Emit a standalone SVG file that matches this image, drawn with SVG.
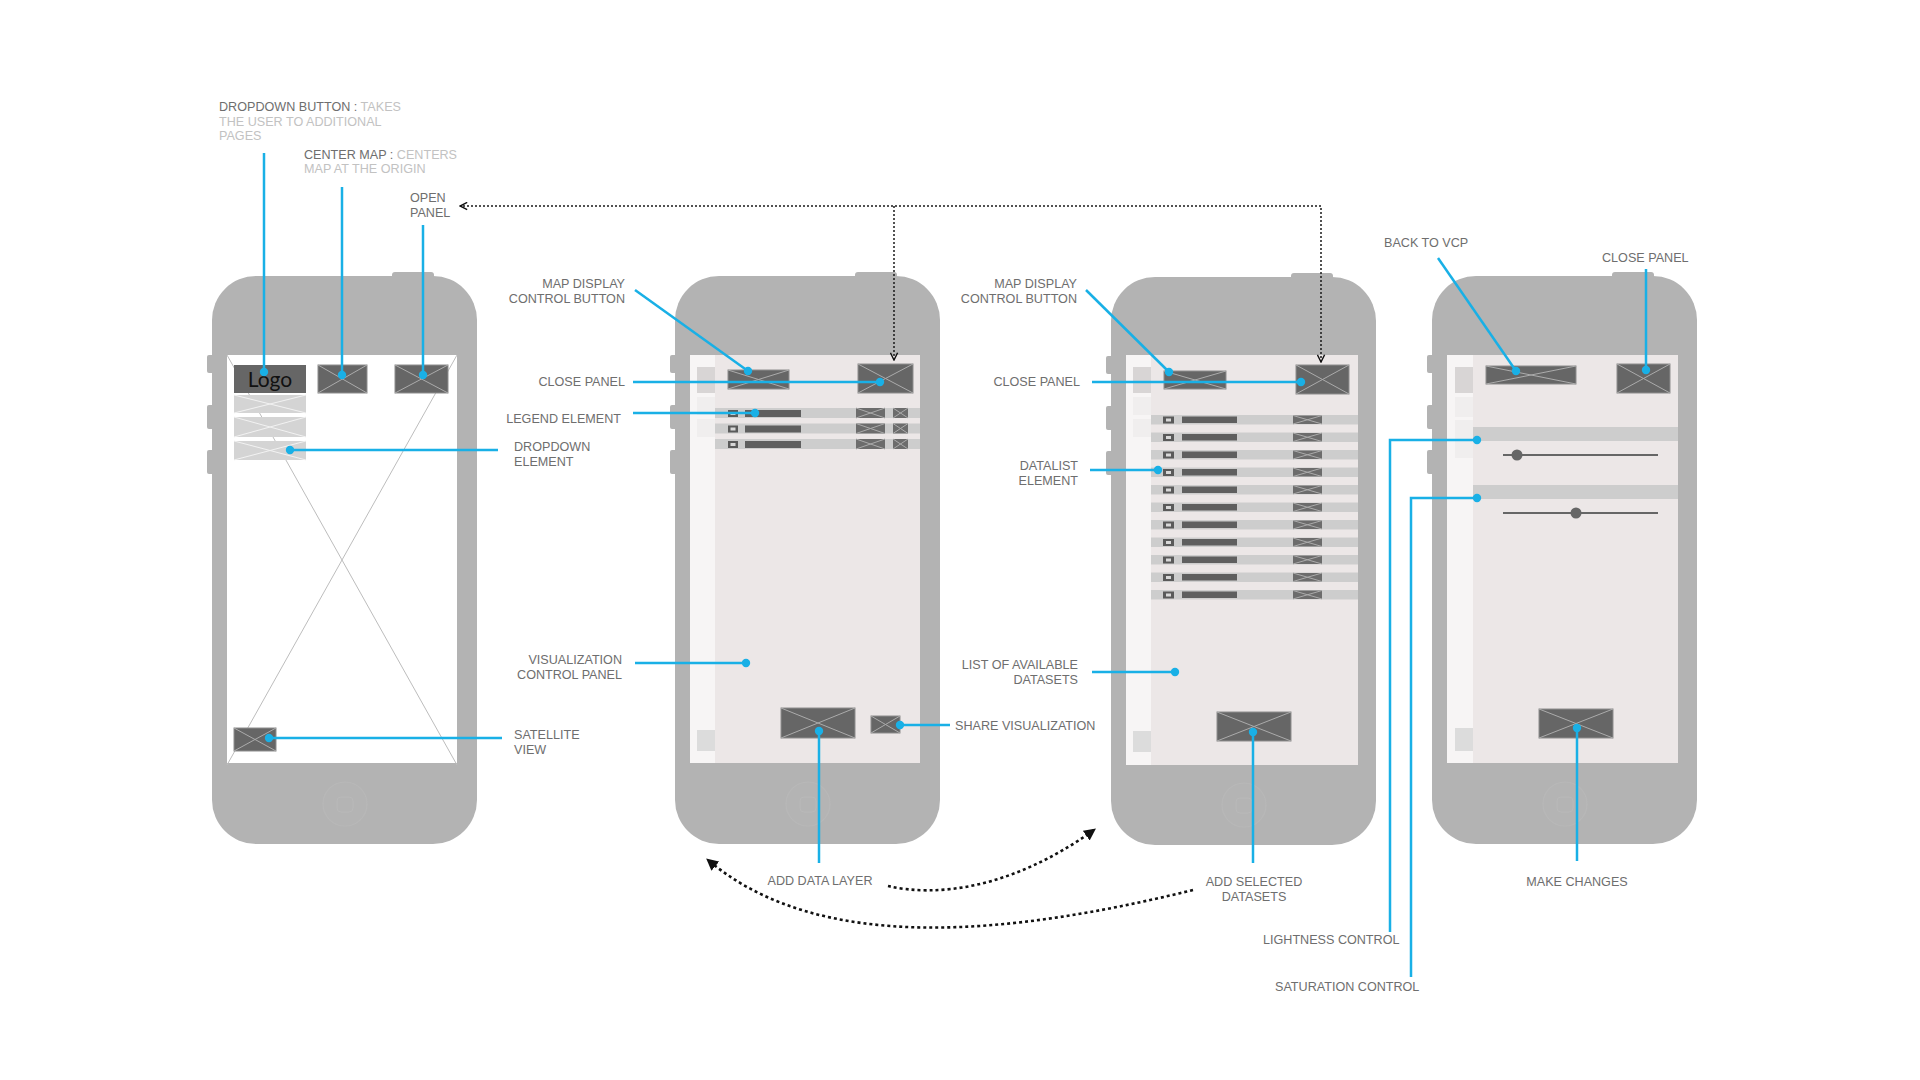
<svg xmlns="http://www.w3.org/2000/svg" xmlns:xlink="http://www.w3.org/1999/xlink" width="1920" height="1080" viewBox="0 0 1920 1080">
<style>
.body{fill:#b3b3b3}
.scr{fill:#ffffff}
.pnl{fill:#ece7e7}
.strip{fill:#f7f5f5}
.tab{fill:#d8d5d5}
.ghost{fill:#f0eeee}
.gsat{fill:#dcdcdc}
.btn{fill:#666666;stroke:#8e8e8e;stroke-width:1}
.x{stroke:#ababab;stroke-width:1;fill:none}
.bigx{stroke:#bdbdbd;stroke-width:1;fill:none}
.dd{fill:#d4d4d4}
.ddx{stroke:#f2f2f2;stroke-width:1;fill:none}
.band{fill:#cdcdcd}
.cb{fill:#5a5a5a}
.cbi{fill:#d8d8d8}
.bar{fill:#5f5f5f}
.ico{fill:#6c6c6c}
.lead{stroke:#19b0e6;stroke-width:2.5;fill:none}
.dot{fill:#19b0e6}
.dash{stroke:#1a1a1a;stroke-width:1.5;fill:none;stroke-dasharray:2 2}
.dash2{stroke:#111;stroke-width:2.6;fill:none;stroke-dasharray:3 3}
text{font-family:'Liberation Sans',Arial,sans-serif;font-size:12.6px;fill:#6e6e6e}
.lt{fill:#c2c2c2}
.end{text-anchor:end}
.mid{text-anchor:middle}
</style>
<defs>
<g id="phoneShape">
<rect class="body" x="207" y="355" width="8" height="18" rx="2"/>
<rect class="body" x="207" y="405" width="8" height="24" rx="2"/>
<rect class="body" x="207" y="450" width="8" height="24" rx="2"/>
<rect class="body" x="392" y="272" width="42" height="10" rx="3"/>
<rect class="body" x="212" y="276" width="265" height="568" rx="44"/>
<circle cx="345" cy="804" r="22" fill="#b4b4b4" stroke="#b8b8b8" stroke-width="1.2"/>
<rect x="337" y="797" width="16" height="15" rx="4" fill="none" stroke="#b9b9b9" stroke-width="1"/>
</g>
<g id="legRow">
<rect class="band" x="0" y="0" width="205" height="10"/>
<rect class="cb" x="13" y="2" width="10" height="7"/>
<rect class="cbi" x="15.5" y="4" width="5" height="3"/>
<rect class="bar" x="30" y="2" width="56" height="7"/>
<rect class="ico" x="141" y="0" width="29" height="10"/>
<path class="x" d="M141 0 L170 10 M141 10 L170 0"/>
<rect class="ico" x="178" y="0" width="15" height="10"/>
<path class="x" d="M178 0 L193 10 M178 10 L193 0"/>
</g>
<g id="dsRow">
<rect class="band" x="0" y="0" width="207" height="9.5"/>
<rect class="cb" x="12" y="1.5" width="11" height="7"/>
<rect class="cbi" x="15" y="3.5" width="5" height="3"/>
<rect class="bar" x="31" y="1.5" width="55" height="6.5"/>
<rect class="ico" x="142" y="0.5" width="29" height="8.5"/>
<path class="x" d="M142 0.5 L171 9 M142 9 L171 0.5"/>
</g>
<marker id="chev" viewBox="0 0 10 10" refX="9" refY="5" markerWidth="9" markerHeight="9" markerUnits="userSpaceOnUse" orient="auto-start-reverse">
<path d="M1 1 L9 5 L1 9" fill="none" stroke="#111" stroke-width="1.6"/>
</marker>
<marker id="tri" viewBox="0 0 10 10" refX="8" refY="5" markerWidth="12" markerHeight="12" markerUnits="userSpaceOnUse" orient="auto">
<path d="M0 0 L10 5 L0 10 z" fill="#111"/>
</marker>
</defs>
<rect x="0" y="0" width="1920" height="1080" fill="#ffffff"/>

<!-- Phone 1 -->
<g id="phone1">
<use href="#phoneShape"/>
<rect class="scr" x="227" y="355" width="230" height="408"/>
<path class="bigx" d="M227 355 L457 765 M457 355 L227 765"/>
<rect x="234" y="365" width="72" height="28" fill="#666666"/>
<text x="270" y="387" style="font-family:Lato,'Open Sans',sans-serif;font-size:21px;fill:#111" text-anchor="middle">Logo</text>
<rect class="dd" x="234" y="395" width="72" height="18"/>
<path class="ddx" d="M234 395 L306 413 M234 413 L306 395"/>
<rect class="dd" x="234" y="417" width="72" height="20"/>
<path class="ddx" d="M234 417 L306 437 M234 437 L306 417"/>
<rect class="dd" x="234" y="441" width="72" height="19"/>
<path class="ddx" d="M234 441 L306 460 M234 460 L306 441"/>
<rect class="btn" x="318" y="365" width="49" height="28"/>
<path class="x" d="M318 365 L367 393 M318 393 L367 365"/>
<rect class="btn" x="395" y="365" width="53" height="28"/>
<path class="x" d="M395 365 L448 393 M395 393 L448 365"/>
<rect class="btn" x="234" y="728" width="42" height="23"/>
<path class="x" d="M234 728 L276 751 M234 751 L276 728"/>
</g>

<!-- Phone 2 -->
<g id="phone2">
<use href="#phoneShape" x="463"/>
<rect class="strip" x="690" y="355" width="25" height="408"/>
<rect class="pnl" x="715" y="355" width="205" height="408"/>
<rect class="tab" x="697" y="367" width="18" height="26"/>
<rect class="ghost" x="697" y="397" width="18" height="18"/>
<rect class="ghost" x="697" y="419" width="18" height="18"/>
<rect class="gsat" x="697" y="730" width="18" height="21"/>
<rect class="btn" x="728" y="370" width="61" height="19"/>
<path class="x" d="M728 370 L789 389 M728 389 L789 370"/>
<rect class="btn" x="858" y="364" width="55" height="29"/>
<path class="x" d="M858 364 L913 393 M858 393 L913 364"/>
<use href="#legRow" x="715" y="408"/>
<use href="#legRow" x="715" y="423.5"/>
<use href="#legRow" x="715" y="439"/>
<rect class="btn" x="781" y="708" width="74" height="30"/>
<path class="x" d="M781 708 L855 738 M781 738 L855 708"/>
<rect class="btn" x="871" y="716" width="29" height="17"/>
<path class="x" d="M871 716 L900 733 M871 733 L900 716"/>
</g>

<!-- Phone 3 -->
<g id="phone3">
<use href="#phoneShape" x="899" y="1"/>
<rect class="strip" x="1126" y="355" width="25" height="410"/>
<rect class="pnl" x="1151" y="355" width="207" height="410"/>
<rect class="tab" x="1133" y="367" width="18" height="26"/>
<rect class="ghost" x="1133" y="397" width="18" height="18"/>
<rect class="ghost" x="1133" y="419" width="18" height="18"/>
<rect class="gsat" x="1133" y="731" width="18" height="21"/>
<rect class="btn" x="1164" y="371" width="62" height="18"/>
<path class="x" d="M1164 371 L1226 389 M1164 389 L1226 371"/>
<rect class="btn" x="1296" y="365" width="53" height="29"/>
<path class="x" d="M1296 365 L1349 394 M1296 394 L1349 365"/>
<use href="#dsRow" x="1151" y="415"/>
<use href="#dsRow" x="1151" y="432.5"/>
<use href="#dsRow" x="1151" y="450"/>
<use href="#dsRow" x="1151" y="467.5"/>
<use href="#dsRow" x="1151" y="485"/>
<use href="#dsRow" x="1151" y="502.5"/>
<use href="#dsRow" x="1151" y="520"/>
<use href="#dsRow" x="1151" y="537.5"/>
<use href="#dsRow" x="1151" y="555"/>
<use href="#dsRow" x="1151" y="572.5"/>
<use href="#dsRow" x="1151" y="590"/>
<rect class="btn" x="1217" y="712" width="74" height="29"/>
<path class="x" d="M1217 712 L1291 741 M1217 741 L1291 712"/>
</g>

<!-- Phone 4 -->
<g id="phone4">
<use href="#phoneShape" x="1220"/>
<rect class="strip" x="1447" y="355" width="26" height="408"/>
<rect class="pnl" x="1473" y="355" width="205" height="408"/>
<rect class="tab" x="1455" y="367" width="18" height="26"/>
<rect class="ghost" x="1455" y="397" width="18" height="20"/>
<rect class="ghost" x="1455" y="420" width="18" height="38"/>
<rect class="gsat" x="1455" y="728" width="18" height="23"/>
<rect class="btn" x="1486" y="366" width="90" height="18"/>
<path class="x" d="M1486 366 L1576 384 M1486 384 L1576 366"/>
<rect class="btn" x="1617" y="364" width="53" height="29"/>
<path class="x" d="M1617 364 L1670 393 M1617 393 L1670 364"/>
<rect class="band" x="1473" y="427" width="205" height="14"/>
<rect class="band" x="1473" y="485" width="205" height="14"/>
<line x1="1503" y1="455" x2="1658" y2="455" stroke="#666" stroke-width="2"/>
<circle cx="1517" cy="455" r="5.5" fill="#666"/>
<line x1="1503" y1="513" x2="1658" y2="513" stroke="#666" stroke-width="2"/>
<circle cx="1576" cy="513" r="5.5" fill="#666"/>
<rect class="btn" x="1539" y="709" width="74" height="29"/>
<path class="x" d="M1539 709 L1613 738 M1539 738 L1613 709"/>
</g>

<!-- Labels -->
<g id="labels">
<g id="lbl-dropdown-button">
<text x="219" y="111">DROPDOWN BUTTON :<tspan class="lt"> TAKES</tspan></text>
<text x="219" y="125.7" class="lt">THE USER TO ADDITIONAL</text>
<text x="219" y="140.4" class="lt">PAGES</text>
</g>
<g id="lbl-center-map">
<text x="304" y="158.5">CENTER MAP :<tspan class="lt"> CENTERS</tspan></text>
<text x="304" y="173.2" class="lt">MAP AT THE ORIGIN</text>
</g>
<g id="lbl-open-panel">
<text x="410" y="202">OPEN</text>
<text x="410" y="216.7">PANEL</text>
</g>
<g id="lbl-dropdown-element">
<text x="514" y="451">DROPDOWN</text>
<text x="514" y="465.7">ELEMENT</text>
</g>
<g id="lbl-satellite">
<text x="514" y="739">SATELLITE</text>
<text x="514" y="753.7">VIEW</text>
</g>
<g id="lbl-map-display-2">
<text x="625" y="288" class="end">MAP DISPLAY</text>
<text x="625" y="302.7" class="end">CONTROL BUTTON</text>
</g>
<text id="lbl-close-2" x="625" y="386" class="end">CLOSE PANEL</text>
<text id="lbl-legend" x="621" y="423" class="end">LEGEND ELEMENT</text>
<g id="lbl-vcp">
<text x="622" y="664" class="end">VISUALIZATION</text>
<text x="622" y="678.7" class="end">CONTROL PANEL</text>
</g>
<text id="lbl-share" x="955" y="729.5">SHARE VISUALIZATION</text>
<text id="lbl-add-layer" x="820" y="885" class="mid">ADD DATA LAYER</text>
<g id="lbl-map-display-3">
<text x="1077" y="288" class="end">MAP DISPLAY</text>
<text x="1077" y="302.7" class="end">CONTROL BUTTON</text>
</g>
<text id="lbl-close-3" x="1080" y="386" class="end">CLOSE PANEL</text>
<g id="lbl-datalist">
<text x="1078" y="470" class="end">DATALIST</text>
<text x="1078" y="484.7" class="end">ELEMENT</text>
</g>
<g id="lbl-list">
<text x="1078" y="669" class="end">LIST OF AVAILABLE</text>
<text x="1078" y="683.7" class="end">DATASETS</text>
</g>
<g id="lbl-add-selected">
<text x="1254" y="886" class="mid">ADD SELECTED</text>
<text x="1254" y="900.7" class="mid">DATASETS</text>
</g>
<text id="lbl-back" x="1384" y="247">BACK TO VCP</text>
<text id="lbl-close-4" x="1602" y="262">CLOSE PANEL</text>
<text id="lbl-make" x="1577" y="886" class="mid">MAKE CHANGES</text>
<text id="lbl-lightness" x="1263" y="944">LIGHTNESS CONTROL</text>
<text id="lbl-saturation" x="1275" y="991">SATURATION CONTROL</text>
</g>

<!-- Connectors -->
<g id="connectors">
<path class="lead" d="M264 153 V372"/><circle class="dot" cx="264" cy="372" r="4.2"/>
<path class="lead" d="M342 187 V375"/><circle class="dot" cx="342" cy="375" r="4.2"/>
<path class="lead" d="M423 225 V375"/><circle class="dot" cx="423" cy="375" r="4.2"/>
<path class="lead" d="M290 450 H498"/><circle class="dot" cx="290" cy="450" r="4.2"/>
<path class="lead" d="M269 738 H502"/><circle class="dot" cx="269" cy="738" r="4.2"/>

<path class="lead" d="M635 290 L748 371" stroke-width="1.8"/><circle class="dot" cx="748" cy="371" r="4.2"/>
<path class="lead" d="M633 382 H880"/><circle class="dot" cx="880" cy="382" r="4.2"/>
<path class="lead" d="M633 413 H755"/><circle class="dot" cx="755" cy="413" r="4.2"/>
<path class="lead" d="M635 663 H746"/><circle class="dot" cx="746" cy="663" r="4.2"/>
<path class="lead" d="M900 725 H950"/><circle class="dot" cx="900" cy="725" r="4.2"/>
<path class="lead" d="M819 731 V863"/><circle class="dot" cx="819" cy="731" r="4.2"/>

<path class="lead" d="M1086 290 L1169 372" stroke-width="1.8"/><circle class="dot" cx="1169" cy="372" r="4.2"/>
<path class="lead" d="M1092 382 H1301"/><circle class="dot" cx="1301" cy="382" r="4.2"/>
<path class="lead" d="M1090 470 H1158"/><circle class="dot" cx="1158" cy="470" r="4.2"/>
<path class="lead" d="M1092 672 H1175"/><circle class="dot" cx="1175" cy="672" r="4.2"/>
<path class="lead" d="M1253 732 V863"/><circle class="dot" cx="1253" cy="732" r="4.2"/>

<path class="lead" d="M1438 258 L1516 371" stroke-width="1.8"/><circle class="dot" cx="1516" cy="371" r="4.2"/>
<path class="lead" d="M1646 269 V370"/><circle class="dot" cx="1646" cy="370" r="4.2"/>
<path class="lead" d="M1477 440 H1390 V932"/><circle class="dot" cx="1477" cy="440" r="4.2"/>
<path class="lead" d="M1477 498 H1411 V977"/><circle class="dot" cx="1477" cy="498" r="4.2"/>
<path class="lead" d="M1577 728 V861"/><circle class="dot" cx="1577" cy="728" r="4.2"/>

<path class="dash" d="M1321 362 V206 H460" marker-start="url(#chev)" marker-end="url(#chev)"/>
<path class="dash" d="M894 206 V360" marker-end="url(#chev)"/>

<path class="dash2" d="M888 886 C935 897 1010 890 1094 830" marker-end="url(#tri)"/>
<path class="dash2" d="M1193 890 C1010 935 820 955 708 860" marker-end="url(#tri)"/>
</g>
</svg>
